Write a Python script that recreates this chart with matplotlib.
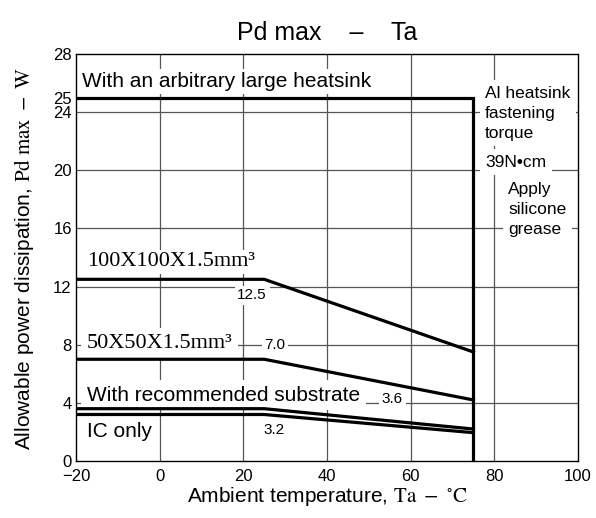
import matplotlib
matplotlib.use('Agg')
import matplotlib.pyplot as plt

plt.rcParams['font.family'] = ['Liberation Sans', 'DejaVu Sans']
plt.rcParams['mathtext.fontset'] = 'stix'

# derating curves: Pd max (W) against ambient temperature Ta (deg C)
ta = [-20, 25, 75]
pd_100 = [12.5, 12.5, 7.5]
pd_50 = [7.0, 7.0, 4.2]
pd_sub = [3.6, 3.6, 2.2]
pd_ic = [3.2, 3.2, 1.95]
ta_sink = [-20, 75, 75]
pd_sink = [25, 25, 0]

xticks = [-20, 0, 20, 40, 60, 80, 100]
yticks = [0, 4, 8, 12, 16, 20, 24, 25, 28]
xgrid = [0, 20, 40, 60, 80]
ygrid = [4, 8, 12, 16, 20, 24]

fig = plt.figure(figsize=(5.96, 5.18), dpi=100)
ax = fig.add_axes([0.1275, 0.110, 0.8423, 0.7858])
ax.set_xlim(-20, 100)
ax.set_ylim(0, 28)
ax.set_xticks(xticks)
ax.set_yticks(yticks)
ax.tick_params(length=0, labelsize=12)
ax.tick_params(axis='x', pad=5.5)
ax.tick_params(axis='y', pad=3)
for s in ax.spines.values():
    s.set_linewidth(1.0)

gc = '#555555'
for gx in xgrid:
    ax.axvline(gx, color=gc, lw=0.9, zorder=1)
for gy in ygrid:
    ax.axhline(gy, color=gc, lw=0.9, zorder=1)

lw = 2.3
ax.plot(ta_sink, pd_sink, color='black', lw=lw, zorder=4, solid_joinstyle='miter')
ax.plot(ta, pd_100, color='black', lw=lw, zorder=4)
ax.plot(ta, pd_50, color='black', lw=lw, zorder=4)
ax.plot(ta, pd_sub, color='black', lw=lw, zorder=4)
ax.plot(ta, pd_ic, color='black', lw=lw, zorder=4)

serif = ['Liberation Serif', 'DejaVu Serif']
box = dict(fc='white', ec='none', pad=2)
wide = dict(fc='white', ec='none', pad=4)
ax.text(-18.6, 26.1, 'With an arbitrary large heatsink', fontsize=15,
        ha='left', va='center', bbox=box, zorder=3)
ax.text(-17.4, 13.7, '100X100X1.5mm\u00b3', fontsize=16, family=serif,
        ha='left', va='center', bbox=box, zorder=3)
ax.text(22.1, 11.4, '12.5', fontsize=11, ha='center', va='center',
        bbox=box, zorder=3)
ax.text(-17.4, 8.1, '50X50X1.5mm\u00b3', fontsize=16, family=serif,
        ha='left', va='center', bbox=wide, zorder=3)
ax.text(27.6, 8.0, '7.0', fontsize=11, ha='center', va='center',
        bbox=box, zorder=3)
ax.text(-17.4, 4.54, 'With recommended substrate', fontsize=15,
        ha='left', va='center', bbox=wide, zorder=3)
ax.text(55.6, 4.3, '3.6', fontsize=11, ha='center', va='center',
        bbox=box, zorder=3)
ax.text(-17.4, 2.0, 'IC only', fontsize=15, ha='left', va='center',
        bbox=box, zorder=3)
ax.text(27.4, 2.13, '3.2', fontsize=11, ha='center', va='center',
        bbox=box, zorder=3)

ax.text(77.8, 25.8, 'Al heatsink\nfastening\ntorque', fontsize=12.5,
        ha='left', va='top', linespacing=1.4, bbox=wide, zorder=3)
ax.text(77.8, 20.55, '39N\u2022cm', fontsize=12.5, ha='left', va='center',
        bbox=wide, zorder=3)
ax.text(83.3, 17.3, 'Apply\nsilicone\ngrease', fontsize=12.5, ha='left',
        va='center', linespacing=1.4, bbox=wide, zorder=3)

fig.text(327 / 596, 1 - 40 / 518, 'Pd max    \u2013    Ta', fontsize=18,
         ha='center', va='baseline')
fig.text(327 / 596, 1 - 497 / 518,
         r'Ambient temperature, $\mathrm{Ta\ -\ {}^{\circ}C}$', fontsize=15,
         ha='center', va='center')
fig.text(24 / 596, 1 - 259 / 518,
         r'Allowable power dissipation, $\mathrm{Pd\ max\ -\ W}$', fontsize=15,
         ha='center', va='center', rotation=90)

fig.savefig('out.png', dpi=100)
